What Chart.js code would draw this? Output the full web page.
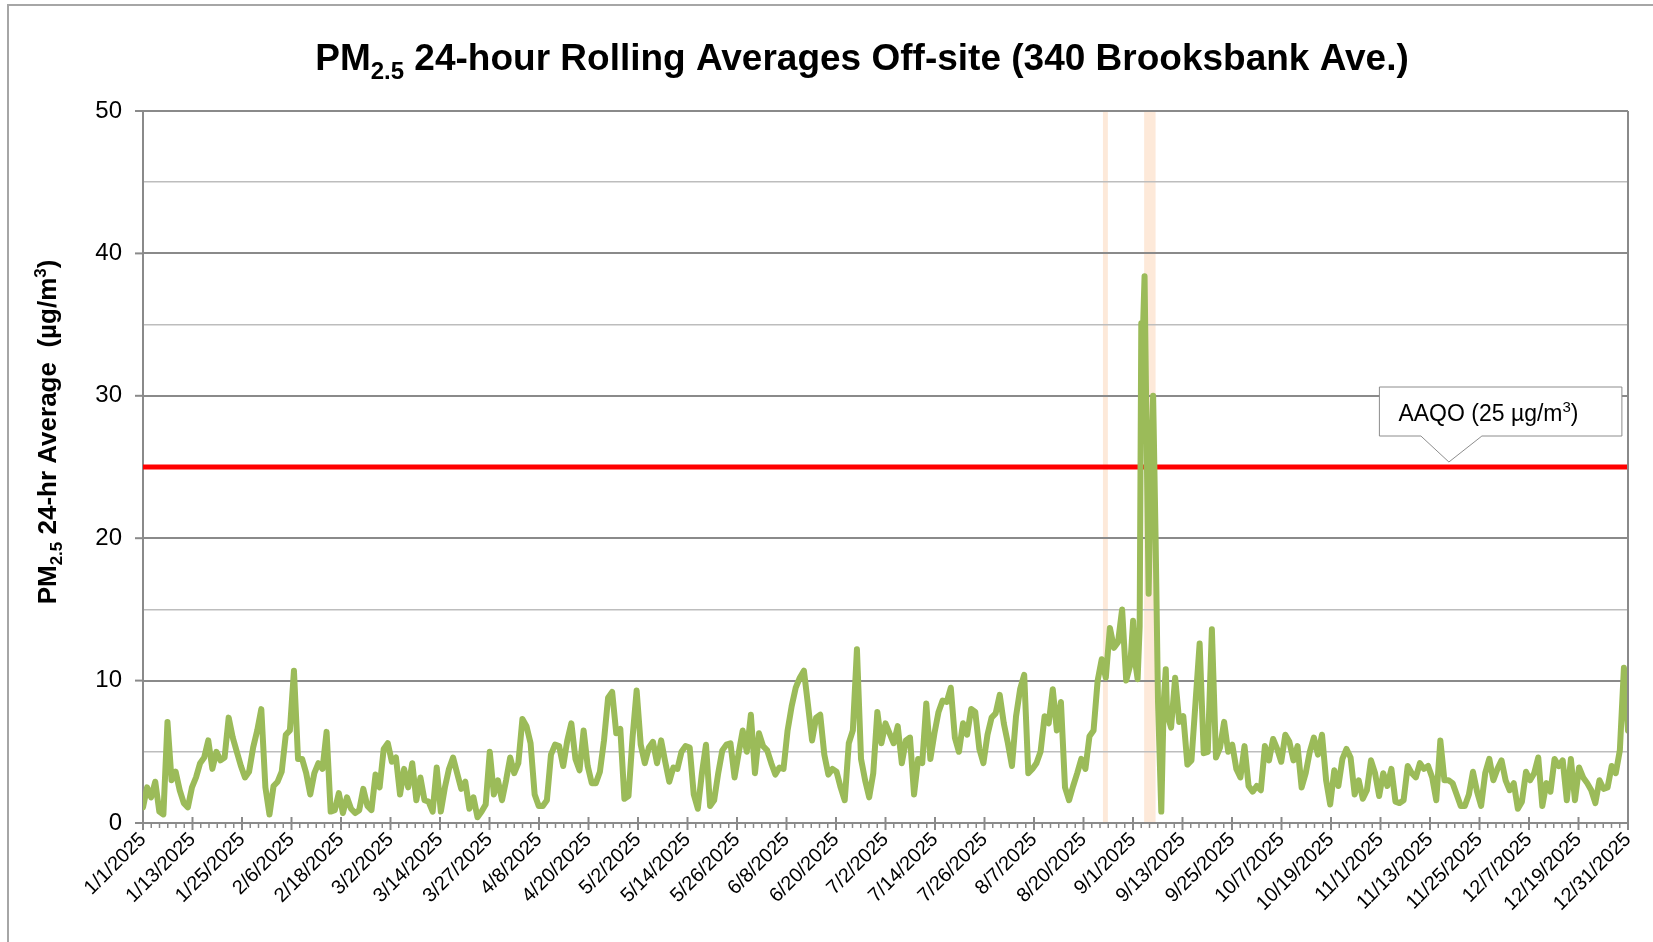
<!DOCTYPE html>
<html>
<head>
<meta charset="utf-8">
<title>PM2.5 24-hour Rolling Averages Off-site</title>
<script src="https://cdn.jsdelivr.net/npm/chart.js@4.4.1/dist/chart.umd.min.js"></script>
<style>
  html, body { margin: 0; padding: 0; background: #fff; }
  #wrap { width: 1653px; height: 942px; }
</style>
</head>
<body>
<div id="wrap"><canvas id="pm-chart" width="1653" height="942"></canvas></div>
<script>
// tick labels shown under the x axis (evenly spaced, as in the source sheet)
const xLabels = [
  "1/1/2025", "1/13/2025", "1/25/2025", "2/6/2025", "2/18/2025", "3/2/2025",
  "3/14/2025", "3/27/2025", "4/8/2025", "4/20/2025", "5/2/2025", "5/14/2025",
  "5/26/2025", "6/8/2025", "6/20/2025", "7/2/2025", "7/14/2025", "7/26/2025",
  "8/7/2025", "8/20/2025", "9/1/2025", "9/13/2025", "9/25/2025", "10/7/2025",
  "10/19/2025", "11/1/2025", "11/13/2025", "11/25/2025", "12/7/2025",
  "12/19/2025", "12/31/2025"
];

// PM2.5 24-hr rolling average, one reading per day (µg/m3)
const pmJan = [1.1, 2.5, 1.8, 2.9, 0.8, 0.6, 7.1, 3.0, 3.6, 2.3, 1.4, 1.1, 2.5, 3.2, 4.2, 4.6, 5.8, 3.8, 5.0, 4.4, 4.6, 7.4, 6.0, 5.0, 4.0, 3.2, 3.6, 5.3, 6.5, 8.0, 2.5];
const pmFeb = [0.6, 2.6, 2.9, 3.6, 6.2, 6.5, 10.7, 4.5, 4.5, 3.5, 2.0, 3.5, 4.2, 3.8, 6.4, 0.8, 0.9, 2.1, 0.7, 1.8, 1.0, 0.7, 0.9, 2.4, 1.2, 0.9, 3.4, 2.5];
const pmMar = [5.2, 5.6, 4.3, 4.6, 2.0, 3.8, 2.5, 4.2, 1.6, 3.2, 1.6, 1.5, 0.8, 3.9, 0.8, 2.5, 3.8, 4.6, 3.5, 2.4, 2.9, 1.0, 1.8, 0.4, 0.8, 1.3, 5.0, 2.0, 3.0, 1.6, 3.0];
const pmApr = [4.6, 3.5, 4.2, 7.3, 6.8, 5.6, 2.0, 1.2, 1.2, 1.6, 4.8, 5.5, 5.4, 4.0, 5.8, 7.0, 4.5, 3.7, 6.5, 4.0, 2.8, 2.8, 3.6, 5.8, 8.8, 9.2, 6.3, 6.6, 1.7, 1.9];
const pmMay = [6.0, 9.3, 5.5, 4.2, 5.3, 5.7, 4.2, 5.8, 4.3, 2.9, 3.9, 3.8, 5.0, 5.4, 5.3, 2.0, 1.0, 3.5, 5.5, 1.2, 1.6, 3.5, 5.1, 5.5, 5.6, 3.2, 4.9, 6.5, 5.0, 7.6, 3.5];
const pmJun = [6.3, 5.4, 5.1, 4.2, 3.4, 3.9, 3.8, 6.5, 8.2, 9.5, 10.2, 10.7, 8.3, 5.8, 7.4, 7.6, 4.8, 3.4, 3.8, 3.6, 2.5, 1.6, 5.6, 6.5, 12.2, 4.5, 3.0, 1.8, 3.5, 7.8];
const pmJul = [5.6, 7.0, 6.3, 5.6, 6.8, 4.2, 5.8, 6.0, 2.0, 4.5, 4.2, 8.4, 4.5, 6.3, 7.8, 8.6, 8.5, 9.5, 6.0, 5.0, 7.0, 6.2, 8.0, 7.8, 5.2, 4.2, 6.2, 7.4, 7.7, 9.0, 7.0];
const pmAug = [5.6, 4.0, 7.5, 9.4, 10.4, 3.5, 3.8, 4.2, 5.0, 7.5, 7.0, 9.4, 6.5, 8.5, 2.5, 1.6, 2.6, 3.5, 4.5, 3.8, 6.1, 6.5, 10.0, 11.5, 10.2, 13.7, 12.3, 12.7, 15.0, 10.0, 11.1];
const pmSep = [11.0, 12.0, 36.0, 27.0, 24.0, 20.0, 5.0, 8.5, 7.7, 6.7, 10.2, 7.1, 7.5, 4.1, 4.4, 8.5, 12.6, 4.9, 5.0, 13.6, 4.6, 5.3, 7.1, 5.0, 5.5, 3.8, 3.2, 5.4, 2.6, 2.2];
const pmOct = [2.6, 2.3, 5.4, 4.4, 5.9, 5.2, 4.3, 6.2, 5.7, 4.4, 5.4, 2.5, 3.5, 5.0, 6.0, 4.8, 6.2, 3.0, 1.3, 3.7, 2.6, 4.5, 5.2, 4.6, 2.0, 3.0, 1.7, 2.3, 4.4, 3.5, 1.9];
const pmNov = [3.5, 2.6, 3.8, 1.5, 1.4, 1.6, 4.0, 3.5, 3.2, 4.2, 3.8, 4.0, 3.2, 1.6, 5.8, 3.0, 3.0, 2.8, 2.0, 1.2, 1.2, 2.0, 3.6, 2.2, 1.2, 3.5, 4.5, 3.0, 3.8, 4.4];
const pmDec = [3.0, 2.3, 2.8, 1.0, 1.5, 3.6, 3.0, 3.5, 4.6, 1.2, 2.8, 2.2, 4.5, 4.0, 4.4, 1.6, 4.5, 1.6, 3.9, 3.2, 2.8, 2.3, 1.4, 3.0, 2.4, 2.5, 4.0, 3.5, 5.1, 10.9, 6.5];

// finer readings through the early-September episode (day index, value)
const spikeDays = [242.7, 243.3, 243.8, 244.3, 244.7, 245.0, 245.5, 246.0, 246.5, 247.0, 247.6, 248.2, 248.8, 249.6, 250.2, 250.7];
const spikeValues = [14.2, 11.1, 10.1, 13.8, 35.1, 33.5, 38.4, 27.0, 16.1, 24.3, 30.0, 20.1, 8.5, 0.8, 8.5, 10.8];

// shaded periods (day index)
const bandStarts = [235.3, 245.4];
const bandEnds = [236.5, 248.2];

const aaqoLimit = 25;
const aaqoLabelDay = 320.1;

const FONT = "'Liberation Sans', Arial, Helvetica, sans-serif";

document.addEventListener("DOMContentLoaded", function () {
  const dailyValues = [].concat(pmJan, pmFeb, pmMar, pmApr, pmMay, pmJun,
    pmJul, pmAug, pmSep, pmOct, pmNov, pmDec);
  const lastDay = dailyValues.length - 1;
  const spikeStart = spikeDays[0];
  const spikeEnd = spikeDays[spikeDays.length - 1];

  const pmPoints = [];
  dailyValues.forEach(function (v, d) {
    if (d < spikeStart || d > spikeEnd) pmPoints.push({ x: d, y: v });
  });
  spikeDays.forEach(function (d, i) {
    pmPoints.push({ x: d, y: spikeValues[i] });
  });
  pmPoints.sort((a, b) => a.x - b.x);

  const labelStep = lastDay / (xLabels.length - 1);

  // draws a row of text pieces (for sub/superscripts)
  function drawRuns(ctx, runs, x, y, align) {
    let total = 0;
    runs.forEach(function (r) {
      ctx.font = r.font;
      r.w = ctx.measureText(r.text).width;
      total += r.w;
    });
    let cx = align === "center" ? x - total / 2 : x;
    ctx.textAlign = "left";
    ctx.textBaseline = "alphabetic";
    runs.forEach(function (r) {
      ctx.font = r.font;
      ctx.fillText(r.text, cx, y + (r.dy || 0));
      cx += r.w;
    });
  }

  const bandPlugin = {
    id: "bands",
    beforeDraw(chart) {
      const { ctx, chartArea, scales } = chart;
      ctx.save();
      ctx.fillStyle = "#fde9d9";
      bandStarts.forEach(function (s, i) {
        const x0 = scales.x.getPixelForValue(s);
        const x1 = scales.x.getPixelForValue(bandEnds[i]);
        ctx.fillRect(x0, chartArea.top, x1 - x0, chartArea.bottom - chartArea.top);
      });
      ctx.restore();
    },
  };

  const decorPlugin = {
    id: "decor",
    afterDraw(chart) {
      const { ctx, chartArea, scales } = chart;
      const xs = scales.x;
      const ys = scales.y;
      ctx.save();

      // outer frame
      ctx.strokeStyle = "#a6a6a6";
      ctx.lineWidth = 2;
      ctx.beginPath();
      ctx.moveTo(8, 942);
      ctx.lineTo(8, 5);
      ctx.lineTo(1653, 5);
      ctx.stroke();

      // right edge of plot
      ctx.strokeStyle = "#8a8a8a";
      ctx.beginPath();
      ctx.moveTo(chartArea.right, chartArea.top);
      ctx.lineTo(chartArea.right, chartArea.bottom);
      ctx.stroke();

      // x tick marks: major crossing the axis, minor below it
      const b = chartArea.bottom;
      for (let i = 0; i < xLabels.length; i++) {
        const v = i * labelStep;
        const px = xs.getPixelForValue(v);
        ctx.lineWidth = 2;
        ctx.beginPath();
        ctx.moveTo(px, b - 6);
        ctx.lineTo(px, b + 7);
        ctx.stroke();
        if (i < xLabels.length - 1) {
          ctx.lineWidth = 1.5;
          for (let k = 1; k < 6; k++) {
            const mx = xs.getPixelForValue(v + (k * labelStep) / 6);
            ctx.beginPath();
            ctx.moveTo(mx, b);
            ctx.lineTo(mx, b + 5);
            ctx.stroke();
          }
        }
      }
      // y tick marks
      ctx.lineWidth = 2;
      for (let v = 0; v <= 50; v += 10) {
        const py = ys.getPixelForValue(v);
        ctx.beginPath();
        ctx.moveTo(chartArea.left - 8, py);
        ctx.lineTo(chartArea.left, py);
        ctx.stroke();
      }

      ctx.fillStyle = "#000";
      // chart title
      drawRuns(ctx, [
        { text: "PM", font: "bold 37px " + FONT },
        { text: "2.5", font: "bold 24px " + FONT, dy: 9 },
        { text: " 24-hour Rolling Averages Off-site (340 Brooksbank Ave.)", font: "bold 37px " + FONT },
      ], 862, 70, "center");

      // y axis title
      ctx.save();
      ctx.translate(56, 432);
      ctx.rotate(-Math.PI / 2);
      drawRuns(ctx, [
        { text: "PM", font: "bold 26px " + FONT },
        { text: "2.5", font: "bold 17px " + FONT, dy: 6 },
        { text: " 24-hr Average  (µg/m", font: "bold 26px " + FONT },
        { text: "3", font: "bold 17px " + FONT, dy: -10 },
        { text: ")", font: "bold 26px " + FONT },
      ], 0, 0, "center");
      ctx.restore();

      // AAQO callout
      const tipX = xs.getPixelForValue(aaqoLabelDay);
      const tipY = ys.getPixelForValue(aaqoLimit) - 5;
      const left = tipX - 69.5, right = tipX + 173;
      const top = tipY - 75, bottom = tipY - 26;
      ctx.beginPath();
      ctx.moveTo(left, top);
      ctx.lineTo(right, top);
      ctx.lineTo(right, bottom);
      ctx.lineTo(tipX + 33, bottom);
      ctx.lineTo(tipX, tipY);
      ctx.lineTo(tipX - 28, bottom);
      ctx.lineTo(left, bottom);
      ctx.closePath();
      ctx.fillStyle = "#fff";
      ctx.fill();
      ctx.strokeStyle = "#8c8c8c";
      ctx.lineWidth = 1;
      ctx.stroke();
      ctx.fillStyle = "#000";
      drawRuns(ctx, [
        { text: "AAQO (25 µg/m", font: "23px " + FONT },
        { text: "3", font: "15px " + FONT, dy: -9 },
        { text: ")", font: "23px " + FONT },
      ], left + 19, top + 34, "left");

      ctx.restore();
    },
  };

  const ctx = document.getElementById("pm-chart").getContext("2d");
  new Chart(ctx, {
    type: "line",
    data: {
      datasets: [
        {
          label: "PM2.5 24-hr Average",
          data: pmPoints,
          borderColor: "#9bbb59",
          borderWidth: 6,
          pointRadius: 0,
          tension: 0,
          borderJoinStyle: "round",
          borderCapStyle: "round",
        },
        {
          label: "AAQO",
          data: [{ x: 0, y: aaqoLimit }, { x: lastDay, y: aaqoLimit }],
          borderColor: "#ff0000",
          borderWidth: 5,
          pointRadius: 0,
        },
      ],
    },
    options: {
      responsive: false,
      animation: false,
      devicePixelRatio: 1,
      layout: { padding: { top: 111, right: 25, left: 0, bottom: 0 } },
      plugins: {
        legend: { display: false },
        tooltip: { enabled: false },
        title: { display: false },
      },
      scales: {
        x: {
          type: "linear",
          min: 0,
          max: lastDay,
          afterBuildTicks: (scale) => {
            scale.ticks = xLabels.map((_, i) => ({ value: i * labelStep }));
          },
          afterFit: (scale) => { scale.height = 119; },
          grid: { display: false, drawTicks: false },
          border: { display: true, color: "#8a8a8a", width: 2 },
          ticks: {
            autoSkip: false,
            maxRotation: 45,
            minRotation: 45,
            padding: 5,
            color: "#000",
            font: { family: FONT, size: 20 },
            callback: (value, index) => xLabels[index],
          },
        },
        y: {
          min: 0,
          max: 50,
          afterFit: (scale) => { scale.width = 143; },
          grid: {
            drawTicks: false,
            color: (c) => (c.tick.value % 10 === 0 ? "#8a8a8a" : "#bdbdbd"),
            lineWidth: (c) => (c.tick.value % 10 === 0 ? 2 : 1.5),
          },
          border: { display: true, color: "#8a8a8a", width: 2 },
          ticks: {
            stepSize: 5,
            padding: 21,
            color: "#000",
            font: { family: FONT, size: 24 },
            callback: (value) => (value % 10 === 0 ? value : ""),
          },
        },
      },
    },
    plugins: [bandPlugin, decorPlugin],
  });
});
</script>
</body>
</html>
